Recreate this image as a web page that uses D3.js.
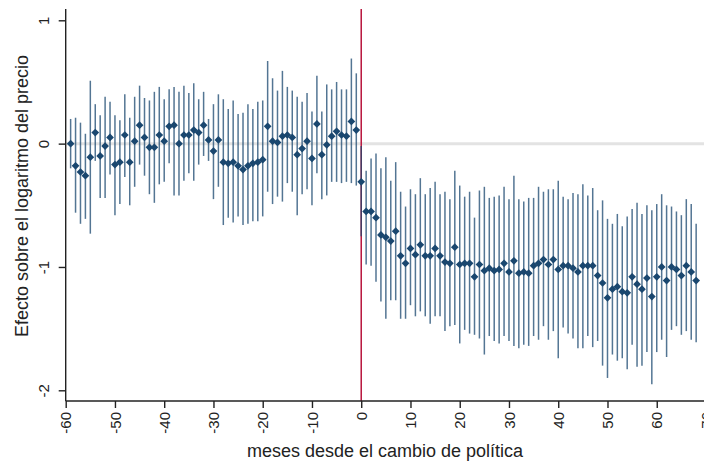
<!DOCTYPE html>
<html lang="es">
<head>
<meta charset="UTF-8">
<title>Efecto sobre el logaritmo del precio</title>
<script src="https://d3js.org/d3.v7.min.js"></script>
<style>
    body { margin: 0; background: #fff; }
    svg { display: block; }
    text { font-family: "Liberation Sans", Arial, sans-serif; fill: #222; }
</style>
</head>
<body>
<svg id="chart" width="704" height="461"></svg>
<script>
    // meses desde el cambio de política (-59 .. 68)
    const months = d3.range(-59, 69);

    const estimates = [
        0.00, -0.18, -0.23, -0.26, -0.11, 0.09, -0.10, -0.02, 0.05, -0.17,
        -0.15, 0.07, -0.15, 0.02, 0.15, 0.05, -0.03, -0.03, 0.07, 0.02,
        0.14, 0.15, 0.00, 0.07, 0.07, 0.11, 0.09, 0.15, 0.03, -0.06,
        0.03, -0.15, -0.16, -0.15, -0.18, -0.21, -0.18, -0.16, -0.15, -0.13,
        0.14, 0.02, 0.01, 0.06, 0.07, 0.05, -0.09, -0.04, 0.02, -0.12,
        0.16, -0.09, -0.01, 0.06, 0.10, 0.07, 0.06, 0.18, 0.11,
        -0.31, -0.55, -0.55, -0.60, -0.74, -0.76, -0.79, -0.71, -0.91, -0.97,
        -0.85, -0.90, -0.82, -0.91, -0.91, -0.85, -0.91, -0.96, -0.97, -0.84,
        -0.98, -0.97, -0.97, -1.08, -0.98, -1.03, -1.01, -1.03, -1.02, -0.97,
        -1.04, -0.95, -1.05, -1.04, -1.05, -0.99, -0.97, -0.94, -0.98, -0.94,
        -1.02, -0.99, -0.99, -1.01, -1.04, -0.99, -0.99, -0.99, -1.07, -1.13,
        -1.25, -1.18, -1.16, -1.20, -1.21, -1.08, -1.14, -1.18, -1.09, -1.24,
        -1.08, -1.00, -1.11, -1.00, -1.02, -1.07, -0.99, -1.04, -1.11
    ];

    const ciHigh = [
        0.20, 0.21, 0.17, 0.08, 0.51, 0.32, 0.23, 0.38, 0.34, 0.23,
        0.19, 0.40, 0.21, 0.38, 0.47, 0.37, 0.35, 0.42, 0.46, 0.36,
        0.44, 0.46, 0.42, 0.47, 0.41, 0.49, 0.36, 0.42, 0.20, 0.32,
        0.40, 0.36, 0.28, 0.35, 0.24, 0.25, 0.32, 0.28, 0.34, 0.35,
        0.67, 0.53, 0.43, 0.59, 0.46, 0.43, 0.38, 0.34, 0.41, 0.26,
        0.55, 0.26, 0.48, 0.44, 0.50, 0.44, 0.44, 0.69, 0.57,
        -0.02, -0.22, -0.12, -0.08, -0.20, -0.11, -0.30, -0.15, -0.39, -0.51,
        -0.37, -0.41, -0.28, -0.41, -0.36, -0.31, -0.41, -0.39, -0.45, -0.22,
        -0.34, -0.43, -0.39, -0.60, -0.38, -0.35, -0.44, -0.43, -0.42, -0.35,
        -0.45, -0.26, -0.45, -0.47, -0.44, -0.44, -0.35, -0.39, -0.37, -0.37,
        -0.30, -0.43, -0.45, -0.40, -0.41, -0.33, -0.42, -0.36, -0.54, -0.46,
        -0.61, -0.65, -0.57, -0.67, -0.59, -0.53, -0.48, -0.57, -0.50, -0.54,
        -0.49, -0.41, -0.50, -0.51, -0.55, -0.58, -0.45, -0.49, -0.65
    ];

    const ciLow = [
        -0.20, -0.56, -0.65, -0.61, -0.73, -0.14, -0.44, -0.44, -0.25, -0.58,
        -0.49, -0.27, -0.50, -0.35, -0.17, -0.26, -0.41, -0.48, -0.33, -0.31,
        -0.16, -0.42, -0.42, -0.30, -0.24, -0.30, -0.17, -0.10, -0.14, -0.45,
        -0.35, -0.66, -0.60, -0.64, -0.59, -0.66, -0.65, -0.63, -0.63, -0.59,
        -0.39, -0.49, -0.43, -0.47, -0.32, -0.39, -0.58, -0.41, -0.37, -0.50,
        -0.24, -0.45, -0.42, -0.31, -0.31, -0.32, -0.31, -0.32, -0.34,
        -0.75, -0.98, -0.99, -1.12, -1.28, -1.42, -1.27, -1.27, -1.42, -1.42,
        -1.31, -1.40, -1.36, -1.40, -1.46, -1.40, -1.40, -1.52, -1.48, -1.47,
        -1.62, -1.51, -1.54, -1.55, -1.58, -1.71, -1.56, -1.60, -1.62, -1.56,
        -1.60, -1.64, -1.66, -1.63, -1.64, -1.56, -1.59, -1.48, -1.59, -1.52,
        -1.74, -1.49, -1.54, -1.58, -1.66, -1.66, -1.56, -1.65, -1.60, -1.80,
        -1.90, -1.71, -1.76, -1.74, -1.83, -1.63, -1.81, -1.80, -1.69, -1.95,
        -1.69, -1.59, -1.73, -1.51, -1.48, -1.55, -1.52, -1.59, -1.61
    ];

    const xTicks = [-60, -50, -40, -30, -20, -10, 0, 10, 20, 30, 40, 50, 60, 70];
    const yTicks = [-2, -1, 0, 1];

    const data = months.map((m, i) => ({ m: m, est: estimates[i], lo: ciLow[i], hi: ciHigh[i] }));

    const svg = d3.select('#chart');
    const navy = '#1a476f';
    const plain = d => String(d); // guion normal, no signo menos unicode

    const x = d3.scaleLinear().domain([-60, 70]).range([65.7, 706]);
    const y = d3.scaleLinear().domain([-2, 1]).range([390.3, 20.3]);
    const plotTop = 9, plotBottom = 401;

    // linea de referencia en 0
    svg.append('line')
        .attr('x1', x(-60)).attr('x2', 704)
        .attr('y1', y(0)).attr('y2', y(0))
        .attr('stroke', '#e3e3e3').attr('stroke-width', 3);

    // cambio de politica
    svg.append('line')
        .attr('x1', x(0)).attr('x2', x(0))
        .attr('y1', plotTop).attr('y2', plotBottom)
        .attr('stroke', '#b8143c').attr('stroke-width', 1.5);

    // intervalos de confianza
    svg.append('g').selectAll('line')
        .data(data)
        .join('line')
        .attr('x1', d => x(d.m)).attr('x2', d => x(d.m))
        .attr('y1', d => y(d.hi)).attr('y2', d => y(d.lo))
        .attr('stroke', navy).attr('stroke-opacity', 0.75).attr('stroke-width', 1.5);

    // estimaciones
    const diamond = d3.symbol().type(d3.symbolSquare).size(30);
    svg.append('g').selectAll('path')
        .data(data)
        .join('path')
        .attr('d', diamond)
        .attr('transform', d => `translate(${x(d.m)},${y(d.est)}) rotate(45)`)
        .attr('fill', navy);

    // ejes
    const xAxis = svg.append('g')
        .attr('transform', `translate(0,${plotBottom})`)
        .call(d3.axisBottom(x).tickValues(xTicks).tickSize(7).tickSizeOuter(0).tickFormat(plain));
    xAxis.select('.domain').attr('d', `M${x(-60)},0H704`);
    xAxis.selectAll('.tick text')
        .attr('transform', 'rotate(-90)')
        .attr('x', -11).attr('y', 0).attr('dy', '0.35em')
        .style('text-anchor', 'end');

    const yAxis = svg.append('g')
        .attr('transform', `translate(${x(-60)},0)`)
        .call(d3.axisLeft(y).tickValues(yTicks).tickSize(7).tickSizeOuter(0).tickFormat(plain));
    yAxis.select('.domain').attr('d', `M0,${plotTop}V${plotBottom}`);
    yAxis.selectAll('.tick text')
        .attr('transform', 'rotate(-90)')
        .attr('x', 0).attr('y', -22).attr('dy', '0.35em')
        .style('text-anchor', 'middle');

    svg.selectAll('.domain, .tick line').attr('stroke', '#222').attr('stroke-width', 1.4);
    svg.selectAll('.tick text').style('font-size', '15px').style('fill', '#222')
        .style('font-family', '"Liberation Sans", Arial, sans-serif');

    // titulos
    svg.append('text')
        .attr('transform', 'translate(22,196) rotate(-90)')
        .attr('dy', '0.35em')
        .style('text-anchor', 'middle')
        .style('font-size', '18px')
        .text('Efecto sobre el logaritmo del precio');

    svg.append('text')
        .attr('x', 385)
        .attr('y', 457)
        .style('text-anchor', 'middle')
        .style('font-size', '18px')
        .text('meses desde el cambio de política');
</script>
</body>
</html>
